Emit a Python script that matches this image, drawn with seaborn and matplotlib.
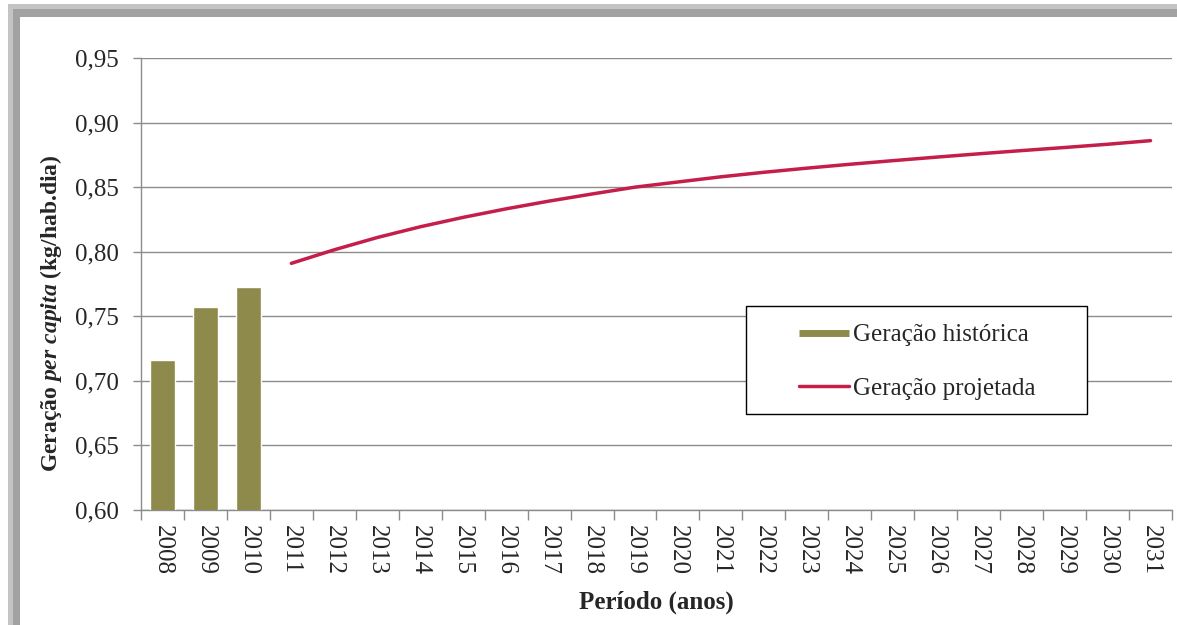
import numpy as np
import pandas as pd
import matplotlib
matplotlib.use("Agg")
import matplotlib.pyplot as plt
import seaborn as sns
from matplotlib.lines import Line2D
from matplotlib.patches import Rectangle

# ---------------- data ----------------
years = [str(y) for y in range(2008, 2032)]
hist_years = ["2008", "2009", "2010"]
hist_values = [0.716, 0.757, 0.773]
proj_years = [str(y) for y in range(2011, 2032)]
proj_values = [0.791, 0.8015, 0.811, 0.8193, 0.8266, 0.8332, 0.8392, 0.8447,
               0.850, 0.854, 0.858, 0.8615, 0.8647, 0.8677, 0.8705, 0.8732,
               0.8758, 0.8783, 0.8807, 0.8832, 0.886]
y_ticks = [0.60, 0.65, 0.70, 0.75, 0.80, 0.85, 0.90, 0.95]
y_tick_labels = ["0,60", "0,65", "0,70", "0,75", "0,80", "0,85", "0,90", "0,95"]
legend_labels = ["Geração histórica", "Geração projetada"]

# ---------------- style ----------------
sns.set_theme(style="white")
plt.rcParams["font.family"] = ["Liberation Serif", "DejaVu Serif"]
plt.rcParams["mathtext.fontset"] = "custom"
plt.rcParams["mathtext.it"] = "Liberation Serif:italic:bold"
plt.rcParams["mathtext.rm"] = "Liberation Serif:bold"

BAR_COLOR = "#8D8A4B"
LINE_COLOR = "#C41E4A"
GRID_COLOR = "#8C8C8C"
FS = 18

W, H = 1177, 625
fig = plt.figure(figsize=(W / 100, H / 100), dpi=100)
fig.patch.set_facecolor("white")

# frame / shadow like the original Excel chart
fig.add_artist(Rectangle((8 / W, 0), 1, (H - 4) / H, transform=fig.transFigure,
                         facecolor="#C4C4C4", edgecolor="none", zorder=-20))
fig.add_artist(Rectangle((13 / W, 0), 1, (H - 9) / H, transform=fig.transFigure,
                         facecolor="#A2A2A2", edgecolor="none", zorder=-19))
fig.add_artist(Rectangle((20 / W, 0), 1, (H - 17) / H, transform=fig.transFigure,
                         facecolor="white", edgecolor="none", zorder=-18))

ax = fig.add_axes([141 / W, 115 / H, 1031 / W, 452 / H])
ax.set_facecolor("white")

sns.barplot(x=hist_years, y=hist_values, order=years, color=BAR_COLOR,
            saturation=1, width=0.58, ax=ax, zorder=3)
proj_pos = [years.index(y) for y in proj_years]
sns.lineplot(x=proj_pos, y=proj_values, color=LINE_COLOR, linewidth=2.5,
             ax=ax, zorder=4)

ax.set_xlim(-0.5, len(years) - 0.5)
ax.set_ylim(0.60, 0.95)

# y axis
ax.set_yticks(y_ticks)
ax.set_yticklabels(y_tick_labels, fontsize=FS)
ax.tick_params(axis="y", which="major", left=True, length=6, width=1,
               color=GRID_COLOR, pad=10, direction="out")
ax.yaxis.grid(True, color=GRID_COLOR, linewidth=1)
ax.xaxis.grid(False)
ax.set_axisbelow(True)

# x axis: labels at centres, tick marks at boundaries
ax.set_xticks(range(len(years)))
ax.set_xticklabels(years, rotation=270, fontsize=FS)
ax.tick_params(axis="x", which="major", bottom=True, length=0, pad=11)
ax.set_xticks(np.arange(-0.5, len(years), 1), minor=True)
ax.tick_params(axis="x", which="minor", bottom=True, length=7, width=1,
               color=GRID_COLOR, direction="out")

for s in ["top", "right"]:
    ax.spines[s].set_visible(False)
for s in ["left", "bottom"]:
    ax.spines[s].set_color(GRID_COLOR)
    ax.spines[s].set_linewidth(1)

ax.set_xlabel("Período (anos)", fontsize=FS, fontweight="bold", labelpad=11)
ax.set_ylabel(r"Geração $\mathit{per\ capita}$ (kg/hab.dia)", fontsize=17,
              fontweight="bold")
ax.yaxis.set_label_coords(-0.075, 0.436)

# legend box
fig.add_artist(Rectangle((746 / W, (H - 414) / H), 341 / W, 108 / H,
                         transform=fig.transFigure, facecolor="white",
                         edgecolor="black", linewidth=1, zorder=2))
handles = [Line2D([0], [0], color=BAR_COLOR, lw=5, solid_capstyle="butt"),
           Line2D([0], [0], color=LINE_COLOR, lw=2.5)]
fig.legend(handles, legend_labels, loc="center left",
           bbox_to_anchor=(799 / W, (H - 362) / H), frameon=False,
           fontsize=FS, handlelength=2.0, handletextpad=0.15,
           labelspacing=1.25, borderpad=0, borderaxespad=0)

fig.savefig("out.png", dpi=100)
